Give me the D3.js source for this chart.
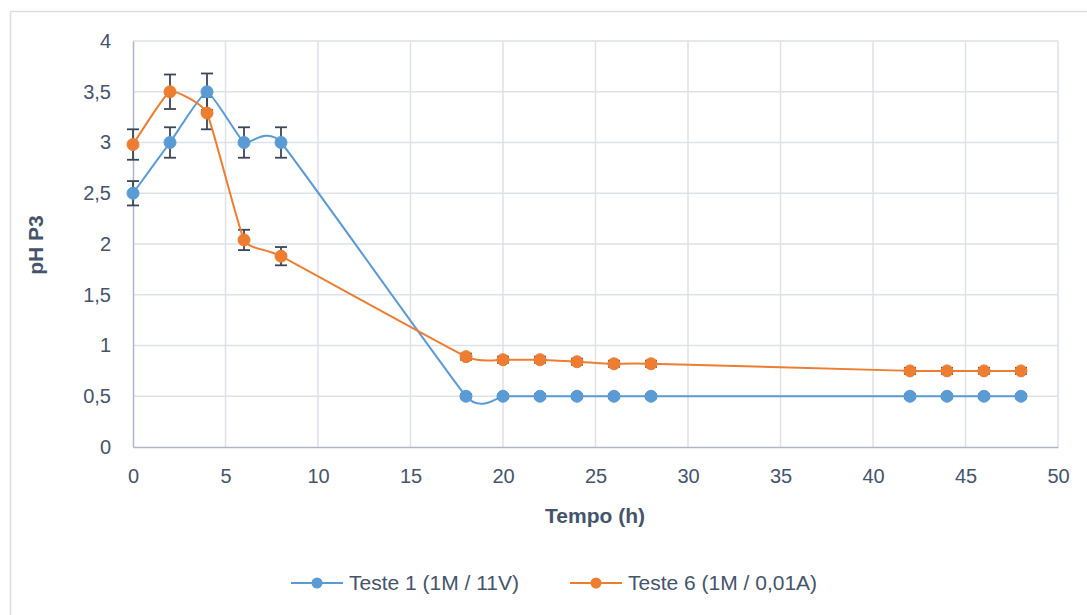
<!DOCTYPE html>
<html>
<head>
<meta charset="utf-8">
<script src="https://cdn.jsdelivr.net/npm/d3@7"></script>
<style>
  body { margin: 0; background: #fff; }
  text { font-family: "Liberation Sans", Arial, sans-serif; fill: #44546A; }
</style>
</head>
<body>
<script>
// data
const hours = [0, 2, 4, 6, 8, 18, 20, 22, 24, 26, 28, 42, 44, 46, 48];
const teste1 = [2.5, 3.0, 3.5, 3.0, 3.0, 0.5, 0.5, 0.5, 0.5, 0.5, 0.5, 0.5, 0.5, 0.5, 0.5];
const teste1Err = [0.12, 0.15, 0.18, 0.15, 0.15, 0.02, 0.02, 0.02, 0.02, 0.02, 0.02, 0.02, 0.02, 0.02, 0.02];
const teste6 = [2.98, 3.5, 3.29, 2.04, 1.88, 0.89, 0.86, 0.86, 0.84, 0.82, 0.82, 0.75, 0.75, 0.75, 0.75];
const teste6Err = [0.15, 0.17, 0.16, 0.10, 0.09, 0.03, 0.03, 0.03, 0.03, 0.03, 0.03, 0.03, 0.03, 0.03, 0.03];
const seriesNames = ["Teste 1 (1M / 11V)", "Teste 6 (1M / 0,01A)"];
const seriesColors = ["#5B9BD5", "#ED7D31"];
const xTicks = [0, 5, 10, 15, 20, 25, 30, 35, 40, 45, 50];
const yTicks = [0, 0.5, 1, 1.5, 2, 2.5, 3, 3.5, 4];

const W = 1087, H = 615;
const margin = { top: 41, right: 29, bottom: 168, left: 133 };
const width = W - margin.left - margin.right;
const height = H - margin.top - margin.bottom;

const svg = d3.select("body").append("svg")
  .attr("width", W)
  .attr("height", H);

// outer chart frame
svg.append("rect")
  .attr("x", 10.5).attr("y", 11.5)
  .attr("width", W + 20).attr("height", H + 20)
  .attr("fill", "#fff")
  .attr("stroke", "#D9DEE6")
  .attr("stroke-width", 1.5);

const g = svg.append("g")
  .attr("transform", `translate(${margin.left},${margin.top})`);

const x = d3.scaleLinear().domain([0, 50]).range([0, width]);
const y = d3.scaleLinear().domain([0, 4]).range([height, 0]);

const fmt = d => String(d).replace(".", ",");

// gridlines
g.append("g").selectAll("line.h")
  .data(yTicks.slice(1))
  .join("line")
  .attr("x1", 0).attr("x2", width)
  .attr("y1", d => y(d)).attr("y2", d => y(d))
  .attr("stroke", "#DDE1E8").attr("stroke-width", 1.5);

g.append("g").selectAll("line.v")
  .data(xTicks.slice(1))
  .join("line")
  .attr("x1", d => x(d)).attr("x2", d => x(d))
  .attr("y1", 0).attr("y2", height)
  .attr("stroke", "#DDE1E8").attr("stroke-width", 1.5);

// axes
const xAxis = g.append("g")
  .attr("transform", `translate(0,${height})`)
  .call(d3.axisBottom(x).tickValues(xTicks).tickSize(0).tickPadding(22).tickFormat(fmt));
const yAxis = g.append("g")
  .call(d3.axisLeft(y).tickValues(yTicks).tickSize(0).tickPadding(22).tickFormat(fmt));
[xAxis, yAxis].forEach(a => {
  a.select(".domain").attr("stroke", "#ABB6C8").attr("stroke-width", 1.5);
  a.selectAll("text")
    .style("font-family", "'Liberation Sans', Arial, sans-serif")
    .style("font-size", "20px")
    .attr("fill", "#44546A");
});

// axis titles
svg.append("text")
  .attr("x", 595).attr("y", 523)
  .attr("text-anchor", "middle")
  .style("font-size", "21px").style("font-weight", "bold")
  .text("Tempo (h)");

svg.append("text")
  .attr("transform", "translate(43,245) rotate(-90)")
  .attr("text-anchor", "middle")
  .style("font-size", "21px").style("font-weight", "bold")
  .text("pH P3");

const series = [
  { vals: teste1, err: teste1Err },
  { vals: teste6, err: teste6Err }
];

// smoothed line, close to Excel's smoothing
const line = d3.line()
  .x(d => x(d[0]))
  .y(d => y(d[1]))
  .curve(d3.curveCardinal.tension(0.6));

// error bars
series.forEach(s => {
  const eb = g.append("g").attr("stroke", "#3B4656").attr("stroke-width", 1.8).attr("fill", "none");
  hours.forEach((h, i) => {
    const cx = x(h), top = y(s.vals[i] + s.err[i]), bot = y(s.vals[i] - s.err[i]);
    eb.append("line").attr("x1", cx).attr("x2", cx).attr("y1", top).attr("y2", bot);
    eb.append("line").attr("x1", cx - 6).attr("x2", cx + 6).attr("y1", top).attr("y2", top);
    eb.append("line").attr("x1", cx - 6).attr("x2", cx + 6).attr("y1", bot).attr("y2", bot);
  });
});

// lines and markers
series.forEach((s, k) => {
  const pts = hours.map((h, i) => [h, s.vals[i]]);
  g.append("path")
    .datum(pts)
    .attr("d", line)
    .attr("fill", "none")
    .attr("stroke", seriesColors[k])
    .attr("stroke-width", 2);
  g.append("g").selectAll("circle")
    .data(pts)
    .join("circle")
    .attr("cx", d => x(d[0]))
    .attr("cy", d => y(d[1]))
    .attr("r", 6)
    .attr("fill", seriesColors[k])
    .attr("stroke", seriesColors[k])
    .attr("stroke-width", 1);
});

// legend
const legendX = [291, 570];
seriesNames.forEach((name, k) => {
  const lg = svg.append("g").attr("transform", `translate(${legendX[k]},583)`);
  lg.append("line").attr("x1", 0).attr("x2", 52).attr("y1", 0).attr("y2", 0)
    .attr("stroke", seriesColors[k]).attr("stroke-width", 2);
  lg.append("circle").attr("cx", 26).attr("cy", 0).attr("r", 5.5)
    .attr("fill", seriesColors[k]);
  lg.append("text").attr("x", 58).attr("y", 7)
    .style("font-size", "21px")
    .text(name);
});
</script>
</body>
</html>
